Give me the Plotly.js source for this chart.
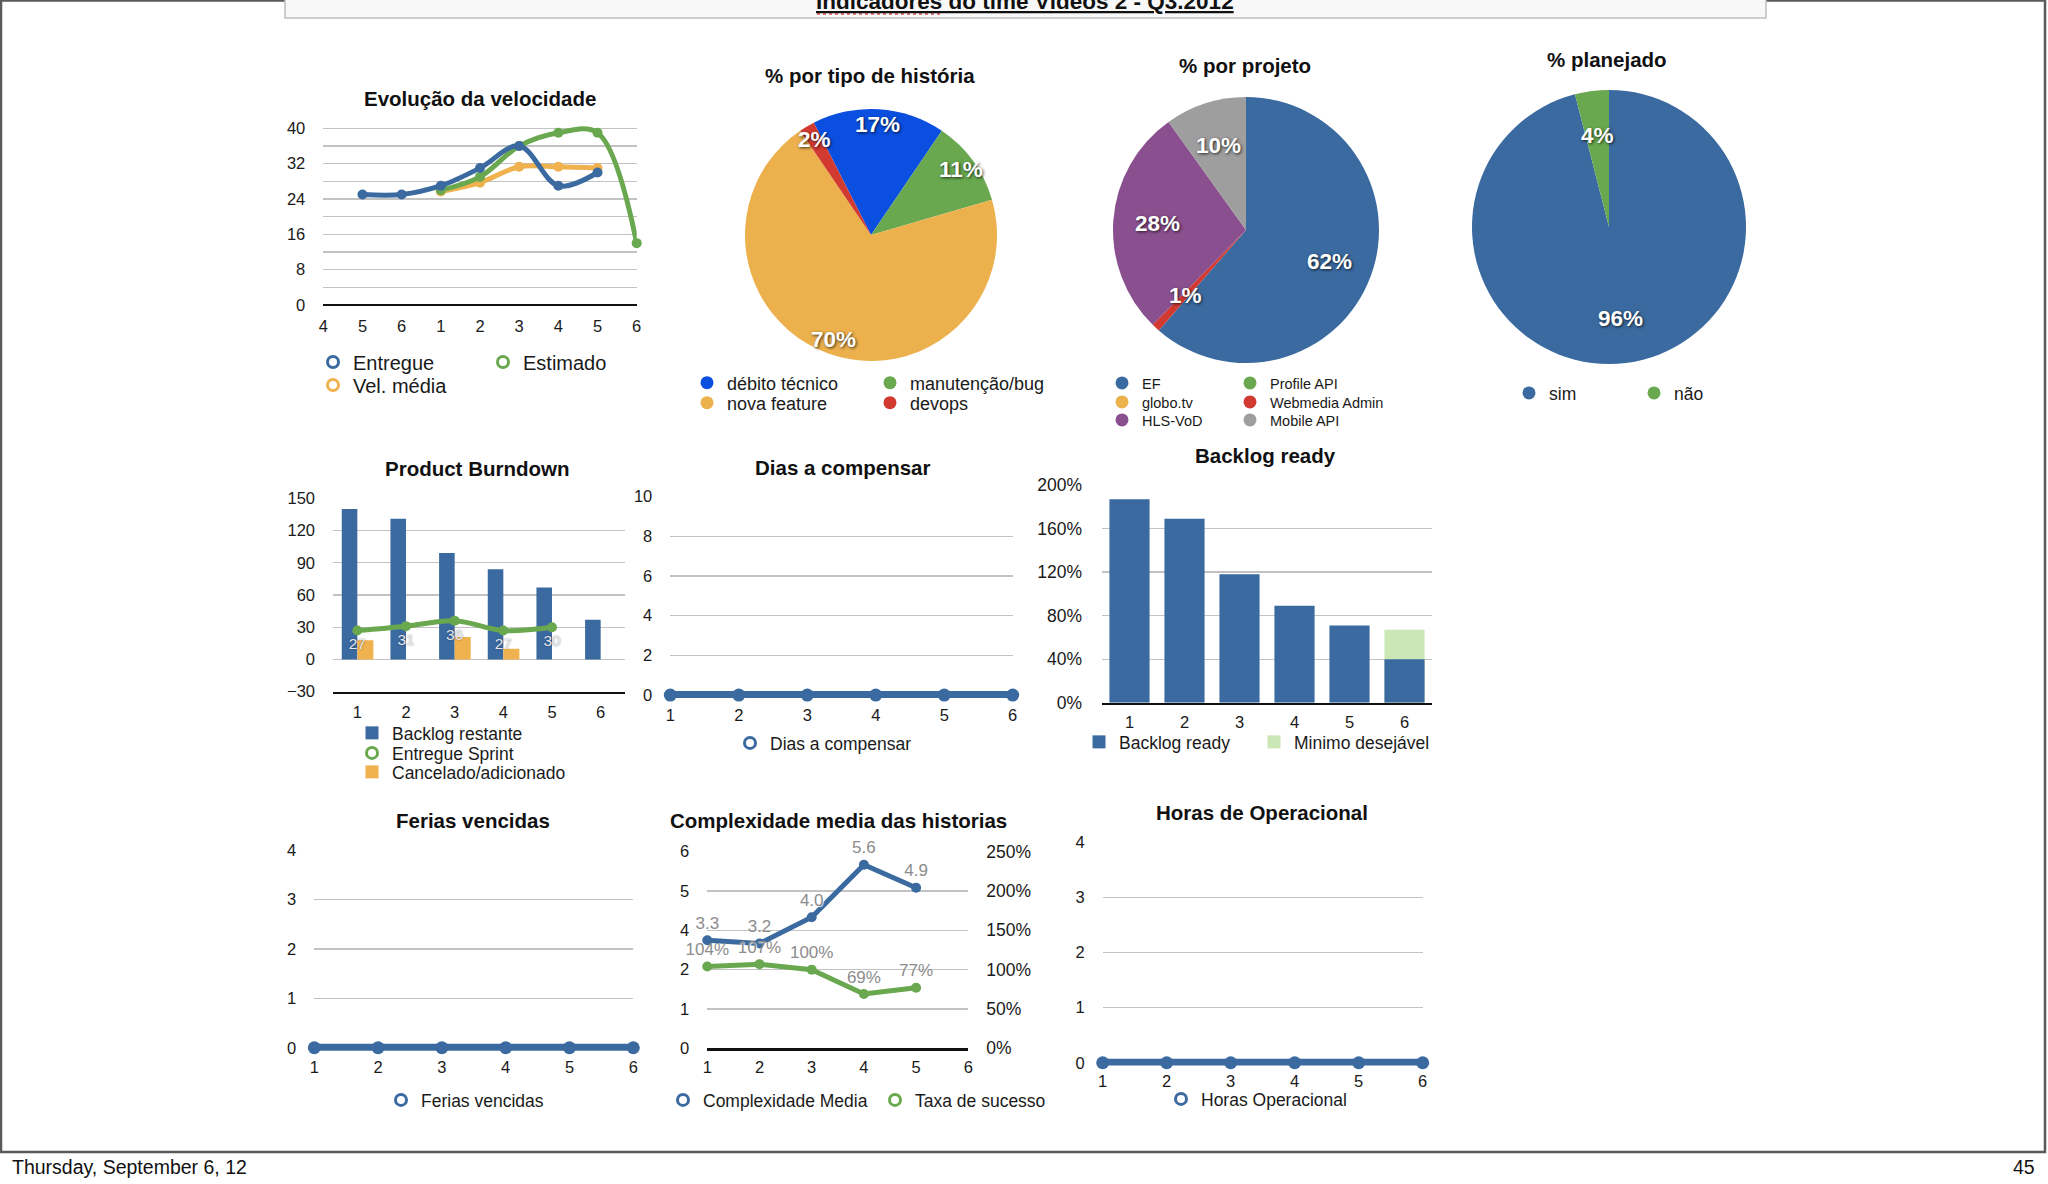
<!DOCTYPE html>
<html><head><meta charset="utf-8">
<script src="https://cdn.plot.ly/plotly-3.0.1.min.js"></script>
<style>html,body{margin:0;padding:0;background:#fff;overflow:hidden}#chart{width:2048px;height:1184px}</style>
</head><body><div id="chart"></div>
<script>
// ---------------- data ----------------
const velSprints = ['4','5','6','1','2','3','4','5','6'];
const velEntregue = [null,25,25,27,31,36,27,30,null];
const velMedia = [null,null,null,25.7,27.7,31.3,31.3,31,null];
const velEstimado = [null,null,null,26,29,36,39,39,14];

const tipoLabels = ['débito técnico','manutenção/bug','nova feature','devops'];
const tipoValues = [17,11,70,2];

const projLabels = ['EF','Profile API','globo.tv','Webmedia Admin','HLS-VoD','Mobile API'];
const projValues = [62,0,0,1,28,10];

const planLabels = ['sim','não'];
const planValues = [96,4];

const sprints = [1,2,3,4,5,6];
const burnBacklog = [140,131,99,84,67,37];
const burnEntregue = [27,31,36,27,30,null];
const burnCancelado = [18,null,21,10,null,null];

const diasValues = [0,0,0,0,0,0];
const backlogReady = [187,169,118,89,71,40];
const minimoDesejavel = [null,null,null,null,null,67];
const feriasValues = [0,0,0,0,0,0];
const complexMedia = [3.3,3.2,4.0,5.6,4.9,null];
const taxaSucesso = [104,107,100,69,77,null];
const complexLeftTickVals = [0,1.2,2.4,3.6,4.8,6];
const complexLeftTickText = ['0','1','2','4','5','6'];
const horasValues = [0,0,0,0,0,0];

// ---------------- style ----------------
const W = 2048, H = 1184;
const fx = p => p / W;
const fy = p => 1 - p / H;
const FONT = 'Liberation Sans, Arial, Helvetica, sans-serif';
const TXT = '#1a1a1a';
const GRID = '#c2c2c2';
const BLUE = '#3b6aa0', ORANGE = '#f0b24f', GREEN = '#6aa84f', LGREEN = '#cbe7b5';
const PBLUE = '#0a4fe0', PGREEN = '#69a84f', PORANGE = '#ecb04d', PRED = '#d23a31';
const PURPLE = '#8a4f8f', GRAY = '#9e9e9e';

function xAxis(l, r, range, anchor, o) {
  return Object.assign({domain:[fx(l), fx(r)], range, anchor, showgrid:false, zeroline:false,
    showline:false, ticks:'', tickfont:{family:FONT, size:16.5, color:TXT}, ticklabelstandoff:9,
    fixedrange:true, tickmode:'array', tickvals:sprints}, o || {});
}
function yAxis(t, b, range, anchor, o) {
  return Object.assign({domain:[fy(b), fy(t)], range, anchor, showgrid:true, gridcolor:GRID,
    gridwidth:1.3, zeroline:false, showline:false, ticks:'', tickfont:{family:FONT, size:16.5, color:TXT},
    ticklabelstandoff:17, fixedrange:true}, o || {});
}
function lineTr(x, y, color, xa, ya, o) {
  return Object.assign({type:'scatter', x, y, xaxis:xa, yaxis:ya, mode:'lines+markers',
    line:{color, width:5}, marker:{color, size:10}, showlegend:false, cliponaxis:false,
    hoverinfo:'x+y'}, o || {});
}

const traces = [];
const idx = velSprints.map((_, i) => i);

// Chart 1: Evolução da velocidade
traces.push(lineTr(idx, velMedia, ORANGE, 'x', 'y', {line:{color:ORANGE, width:5, shape:'spline'}}));
traces.push(lineTr(idx, velEstimado, GREEN, 'x', 'y', {line:{color:GREEN, width:5, shape:'spline'}}));
traces.push(lineTr(idx, velEntregue, BLUE, 'x', 'y', {line:{color:BLUE, width:5, shape:'spline'}}));

// Chart 2: Product Burndown
traces.push({type:'bar', x:sprints, y:burnBacklog, xaxis:'x2', yaxis:'y2', marker:{color:BLUE},
  offset:-0.32, width:0.32, showlegend:false});
traces.push(lineTr(sprints, burnEntregue, GREEN, 'x2', 'y2', {mode:'lines+markers+text',
  line:{color:GREEN, width:5, shape:'spline'}, texttemplate:'%{y}', textposition:'bottom center',
  textfont:{family:FONT, size:15.5, color:'#e4e8ee', shadow:'0px 0px 2px rgba(0,0,0,0.45)'}}));
traces.push({type:'bar', x:sprints, y:burnCancelado, xaxis:'x2', yaxis:'y2', marker:{color:ORANGE},
  offset:0, width:0.33, showlegend:false});

// Chart 3: Dias a compensar
traces.push(lineTr(sprints, diasValues, BLUE, 'x3', 'y3', {line:{color:BLUE, width:8}, marker:{color:BLUE, size:13}}));

// Chart 4: Backlog ready
traces.push({type:'bar', x:sprints, y:minimoDesejavel, xaxis:'x4', yaxis:'y4', marker:{color:LGREEN},
  width:0.73, showlegend:false});
traces.push({type:'bar', x:sprints, y:backlogReady, xaxis:'x4', yaxis:'y4', marker:{color:BLUE},
  width:0.73, showlegend:false});

// Chart 5: Ferias vencidas
traces.push(lineTr(sprints, feriasValues, BLUE, 'x5', 'y5', {line:{color:BLUE, width:8}, marker:{color:BLUE, size:13}}));

// Chart 6: Complexidade media
const lblFont = {family:FONT, size:17, color:'#8c8c8c', shadow:'1px 1px 1px rgba(255,255,255,0.9)'};
traces.push(lineTr(sprints, taxaSucesso, GREEN, 'x6', 'y7', {mode:'lines+markers+text',
  texttemplate:'%{y}', textposition:'top center', textfont:lblFont}));
traces.push(lineTr(sprints, complexMedia, BLUE, 'x6', 'y6', {mode:'lines+markers+text',
  texttemplate:'%{y:.1f}', textposition:'top center', textfont:lblFont}));

// Chart 7: Horas de Operacional
traces.push(lineTr(sprints, horasValues, BLUE, 'x7', 'y8', {line:{color:BLUE, width:8}, marker:{color:BLUE, size:13}}));

// Pies
const pie1 = {cx:871, cy:235, r:126, rot:-27, k:0.88};
const pie2 = {cx:1246, cy:230, r:133, rot:0, k:0.67};
const pie3 = {cx:1609, cy:227, r:137, rot:0, k:0.67};
function pieTrace(p, labels, values, colors) {
  return {type:'pie', labels, values, sort:false, direction:'clockwise', rotation:p.rot,
    domain:{x:[fx(p.cx - p.r), fx(p.cx + p.r)], y:[fy(p.cy + p.r), fy(p.cy - p.r)]},
    marker:{colors, line:{width:0}}, textinfo:'none', showlegend:false, hoverinfo:'label+percent'};
}
const tipoColors = [PBLUE, PGREEN, PORANGE, PRED];
const projColors = [BLUE, PGREEN, PORANGE, PRED, PURPLE, GRAY];
const planColors = [BLUE, PGREEN];
traces.push(pieTrace(pie1, tipoLabels, tipoValues, tipoColors));
traces.push(pieTrace(pie2, projLabels, projValues, projColors));
traces.push(pieTrace(pie3, planLabels, planValues, planColors));

// ---------------- layout ----------------
const layout = {
  width:W, height:H, margin:{l:0, r:0, t:0, b:0}, paper_bgcolor:'#ffffff', plot_bgcolor:'rgba(0,0,0,0)',
  font:{family:FONT, color:TXT}, barmode:'overlay', showlegend:true,
  // chart 1
  xaxis: xAxis(323.3, 636.7, [0, 8], 'y', {tickvals:idx, ticktext:velSprints}),
  yaxis: yAxis(123.9, 305, [0, 41], 'x', {tickmode:'linear', tick0:0, dtick:8,
    minor:{dtick:4, showgrid:true, gridcolor:GRID, gridwidth:1.3},
    zeroline:true, zerolinecolor:'#111', zerolinewidth:2.2}),
  // chart 2
  xaxis2: xAxis(333, 625, [0.5, 6.5], 'y2', {showline:true, linecolor:'#111', linewidth:2.2, ticklabelstandoff:4}),
  yaxis2: yAxis(498.3, 691.7, [-30, 150], 'x2', {tickmode:'linear', tick0:0, dtick:30}),
  // chart 3
  xaxis3: xAxis(670.3, 1012.7, [1, 6], 'y3', {ticklabelstandoff:5}),
  yaxis3: yAxis(496.7, 698, [-0.15, 10], 'x3', {tickmode:'linear', tick0:0, dtick:2}),
  // chart 4
  xaxis4: xAxis(1102, 1432, [0.5, 6.5], 'y4', {showline:true, linecolor:'#111', linewidth:2.2, ticklabelstandoff:3}),
  yaxis4: yAxis(485, 702.7, [0, 200], 'x4', {tickmode:'linear', tick0:0, dtick:40, ticksuffix:'%',
    tickfont:{family:FONT, size:17.5, color:TXT}, ticklabelstandoff:19}),
  // chart 5
  xaxis5: xAxis(314.3, 633.3, [1, 6], 'y5', {ticklabelstandoff:5}),
  yaxis5: yAxis(850, 1050.7, [-0.06, 4], 'x5', {tickmode:'linear', tick0:0, dtick:1}),
  // chart 6
  xaxis6: xAxis(707.3, 968.3, [1, 6], 'y6', {showline:true, linecolor:'#111', linewidth:2.2, ticklabelstandoff:3}),
  yaxis6: yAxis(851.7, 1048.3, [0, 6], 'x6', {tickmode:'array', tickvals:complexLeftTickVals, ticktext:complexLeftTickText}),
  yaxis7: yAxis(851.7, 1048.3, [0, 250], 'x6', {overlaying:'y6', side:'right', showgrid:false,
    tickmode:'linear', tick0:0, dtick:50, ticksuffix:'%', tickfont:{family:FONT, size:17.5, color:TXT}}),
  // chart 7
  xaxis7: xAxis(1102.7, 1422.7, [1, 6], 'y8', {ticklabelstandoff:4}),
  yaxis8: yAxis(842.3, 1065.5, [-0.05, 4], 'x7', {tickmode:'linear', tick0:0, dtick:1}),
  shapes: [
    {type:'rect', xref:'paper', yref:'paper', x0:fx(1), x1:fx(2045), y0:fy(1152), y1:fy(0.5),
      line:{color:'#5a5a5a', width:2.5}, fillcolor:'rgba(0,0,0,0)', layer:'below'},
    {type:'rect', xref:'paper', yref:'paper', x0:fx(285), x1:fx(1766), y0:fy(18), y1:fy(-4),
      line:{color:'#bdbdbd', width:1.5}, fillcolor:'#f8f8f8', layer:'below'},
    {type:'line', xref:'paper', yref:'paper', x0:fx(817), x1:fx(942), y0:fy(14), y1:fy(14),
      line:{color:'#e05050', width:1.5, dash:'dot'}}
  ],
  annotations: []
};

// titles
const titles = [
  ['Evolução da velocidade', 480, 98], ['% por tipo de história', 870, 75], ['% por projeto', 1245, 66],
  ['% planejado', 1607, 60], ['Product Burndown', 477, 468], ['Dias a compensar', 842, 467],
  ['Backlog ready', 1265, 455], ['Ferias vencidas', 473, 820], ['Complexidade media das historias', 838, 820],
  ['Horas de Operacional', 1262, 812]
];
titles.forEach(([t, x, y]) => layout.annotations.push({text:t, x:fx(x), y:fy(y), xref:'paper', yref:'paper',
  showarrow:false, xanchor:'center', yanchor:'middle', font:{family:FONT, size:20.5, color:'#111', weight:'bold'}}));

// header and footer
layout.annotations.push({text:'Indicadores do time Vídeos 2 - Q3.2012', x:fx(1025), y:fy(2), xref:'paper', yref:'paper',
  showarrow:false, xanchor:'center', yanchor:'middle', font:{family:FONT, size:22.5, color:'#111', weight:'bold', lineposition:'under'}});
layout.annotations.push({text:'Thursday, September 6, 12', x:fx(10), y:fy(1167), xref:'paper', yref:'paper',
  showarrow:false, xanchor:'left', yanchor:'middle', font:{family:FONT, size:19.5, color:'#111'}});
layout.annotations.push({text:'45', x:fx(2037), y:fy(1167), xref:'paper', yref:'paper',
  showarrow:false, xanchor:'right', yanchor:'middle', font:{family:FONT, size:19.5, color:'#111'}});

// pie percentage labels (values are already percentages), placed at each slice's mid angle
function pieLabels(p, values) {
  const total = values.reduce((a, b) => a + b, 0);
  let acc = 0;
  values.forEach(v => {
    const mid = p.rot + (acc + v / 2) / total * 360;
    acc += v;
    if (v <= 0) return;
    const a = mid * Math.PI / 180;
    layout.annotations.push({text:v + '%', xref:'paper', yref:'paper',
      x:fx(p.cx + p.k * p.r * Math.sin(a)), y:fy(p.cy - p.k * p.r * Math.cos(a)), showarrow:false,
      xanchor:'center', yanchor:'middle',
      font:{family:FONT, size:22.5, color:'#ffffff', weight:'bold', shadow:'1px 1px 3px rgba(0,0,0,0.75)'}});
  });
}
pieLabels(pie1, tipoValues);
pieLabels(pie2, projValues);
pieLabels(pie3, planValues);

// legends: one legend box per entry, legend-only traces carry the series names
let legN = 0;
function legendItem(name, color, symbol, mx, my, fs) {
  legN += 1;
  const key = legN === 1 ? 'legend' : 'legend' + legN;
  layout[key] = {x:fx(mx - 20), y:fy(my), xanchor:'left', yanchor:'middle', xref:'paper', yref:'paper',
    bgcolor:'rgba(0,0,0,0)', borderwidth:0, font:{family:FONT, size:fs, color:TXT},
    itemclick:false, itemdoubleclick:false};
  const open = symbol === 'circle-open';
  traces.push({type:'scatter', x:[null], y:[null], xaxis:'x', yaxis:'y', mode:'markers', name,
    legend:key, showlegend:true, hoverinfo:'skip',
    marker:{symbol, color, size: open ? 11 : 13, line:{color, width: open ? 3 : 0}}});
}
// chart 1
legendItem('Entregue', BLUE, 'circle-open', 333, 362, 20);
legendItem('Vel. média', ORANGE, 'circle-open', 333, 385, 20);
legendItem('Estimado', GREEN, 'circle-open', 503, 362, 20);
// pie 1
[[0, 707, 383], [1, 890, 383], [2, 707, 403], [3, 890, 403]].forEach(([i, x, y]) =>
  legendItem(tipoLabels[i], tipoColors[i], 'circle', x, y, 18));
// pie 2
[[0, 1122, 383], [1, 1250, 383], [2, 1122, 402], [3, 1250, 402], [4, 1122, 420], [5, 1250, 420]].forEach(([i, x, y]) =>
  legendItem(projLabels[i], projColors[i], 'circle', x, y, 14.5));
// pie 3
legendItem(planLabels[0], planColors[0], 'circle', 1529, 393, 17.5);
legendItem(planLabels[1], planColors[1], 'circle', 1654, 393, 17.5);
// burndown
legendItem('Backlog restante', BLUE, 'square', 372, 733, 17.5);
legendItem('Entregue Sprint', GREEN, 'circle-open', 372, 753, 17.5);
legendItem('Cancelado/adicionado', ORANGE, 'square', 372, 772, 17.5);
// dias
legendItem('Dias a compensar', BLUE, 'circle-open', 750, 743, 17.5);
// backlog ready
legendItem('Backlog ready', BLUE, 'square', 1099, 742, 17.5);
legendItem('Minimo desejável', LGREEN, 'square', 1274, 742, 17.5);
// ferias
legendItem('Ferias vencidas', BLUE, 'circle-open', 401, 1100, 17.5);
// complexidade
legendItem('Complexidade Media', BLUE, 'circle-open', 683, 1100, 17.5);
legendItem('Taxa de sucesso', GREEN, 'circle-open', 895, 1100, 17.5);
// horas
legendItem('Horas Operacional', BLUE, 'circle-open', 1181, 1099, 17.5);

Plotly.newPlot('chart', traces, layout, {displayModeBar:false, staticPlot:true});
</script>
</body></html>
